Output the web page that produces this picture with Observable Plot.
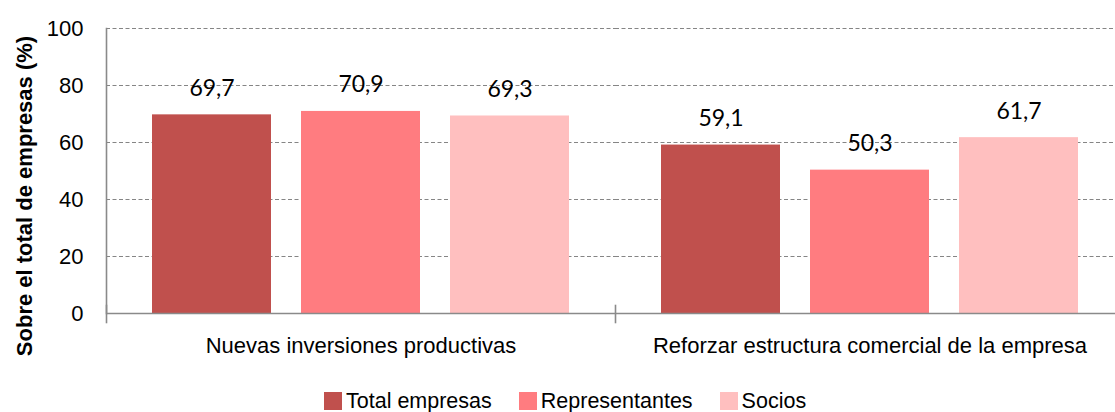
<!DOCTYPE html>
<html>
<head>
<meta charset="utf-8">
<script src="https://cdn.jsdelivr.net/npm/d3@7"></script>
<script src="https://cdn.jsdelivr.net/npm/@observablehq/plot@0.6"></script>
<style>
  html, body { margin: 0; padding: 0; background: #fff; overflow: hidden; }
  #wrap { position: relative; width: 1115px; height: 412px; overflow: hidden; }
  #chart { position: absolute; left: 0; top: 0; width: 1124px; }
  #chart svg { max-width: none !important; }
  #ytitle {
    position: absolute; left: 25px; top: 196px;
    transform: translate(-50%, -50%) rotate(-90deg);
    white-space: nowrap;
    font-family: "Liberation Sans", Arial, sans-serif;
    font-weight: bold; font-size: 22px; color: #000;
  }
  #legend {
    position: absolute; left: 324px; top: 392px;
    display: flex; align-items: center;
    font-family: "Liberation Sans", Arial, sans-serif;
    font-size: 21.5px; color: #000; white-space: nowrap; line-height: 18px;
  }
  #legend .item { display: flex; align-items: center; margin-right: 27px; }
  #legend .sw { width: 18px; height: 18px; margin-right: 4px; }
</style>
</head>
<body>
<div id="wrap">
  <div id="chart"></div>
  <div id="ytitle"></div>
  <div id="legend"></div>
</div>
<script>
// ---- data ----
const categories = ["Nuevas inversiones productivas", "Reforzar estructura comercial de la empresa"];
const series = ["Total empresas", "Representantes", "Socios"];
const totalEmpresas = [69.7, 59.1];
const representantes = [70.9, 50.3];
const socios = [69.3, 61.7];
const colors = ["#C0504D", "#FF7C80", "#FFBFBF"];
const yTicks = [0, 20, 40, 60, 80, 100];
const yTitle = "Sobre el total de empresas (%)";

const seriesValues = [totalEmpresas, representantes, socios];
const rows = [];
categories.forEach((c, ci) => {
  series.forEach((s, si) => rows.push({category: c, series: s, value: seriesValues[si][ci]}));
});
const fmt = v => v.toFixed(1).replace(".", ",");

// ---- layout ----
const FONT = '"Liberation Sans", Arial, sans-serif';
const W = 1124, H = 372, MT = 28, MB = 59, ML = 106, MR = 0;
const plotH = H - MT - MB;

const chart = Plot.plot({
  width: W, height: H,
  marginTop: MT, marginBottom: MB, marginLeft: ML, marginRight: MR,
  style: {fontFamily: FONT, fontSize: "22px", color: "#000", background: "transparent", overflow: "visible", maxWidth: "none"},
  fx: {domain: categories, padding: 0, label: null},
  x: {domain: series, paddingInner: 0.2, paddingOuter: 0.3, axis: null},
  y: {domain: [0, 100], axis: null},
  color: {domain: series, range: colors},
  marks: [
    Plot.ruleY(yTicks.filter(t => t > 0), {stroke: "#858585", strokeWidth: 1.2, strokeDasharray: "4,2.5"}),
    Plot.barY(rows, {fx: "category", x: "series", y: "value", fill: "series"}),
    Plot.text(rows, {
      fx: "category", x: "series", y: "value", text: d => fmt(d.value),
      lineAnchor: "bottom", dy: -19, fontFamily: "Lato, 'Open Sans', sans-serif", fontSize: 23, fill: "#000"
    }),
    Plot.ruleY([0], {stroke: "#8a8a8a", strokeWidth: 1.6}),
    Plot.frame({anchor: "left", facetAnchor: "left", stroke: "#8a8a8a", strokeWidth: 1.6}),
    Plot.frame({anchor: "left", insetTop: plotH - 8, insetBottom: -9, stroke: "#8a8a8a", strokeWidth: 1.6}),
    Plot.axisY({ticks: yTicks, tickSize: 0, tickPadding: 23, label: null, fontSize: 22}),
    Plot.axisFx({anchor: "bottom", tickSize: 0, tickPadding: 24, label: null, fontSize: 22})
  ]
});
document.getElementById("chart").appendChild(chart);
document.getElementById("ytitle").textContent = yTitle;

const legend = document.getElementById("legend");
series.forEach((s, i) => {
  const item = document.createElement("div");
  item.className = "item";
  const sw = document.createElement("div");
  sw.className = "sw";
  sw.style.background = colors[i];
  const t = document.createElement("span");
  t.textContent = s;
  item.appendChild(sw);
  item.appendChild(t);
  legend.appendChild(item);
});
</script>
</body>
</html>
